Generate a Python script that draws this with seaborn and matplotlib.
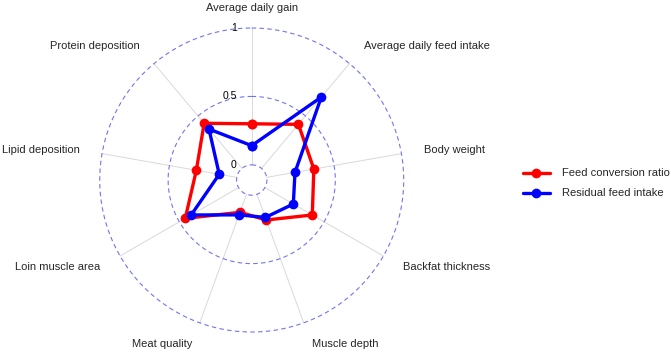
import numpy as np
import pandas as pd
import matplotlib
matplotlib.use("Agg")
import matplotlib.pyplot as plt
import seaborn as sns

# ejes del radar (sentido horario desde arriba)
traits = [
    "Average daily gain", "Average daily feed intake", "Body weight",
    "Backfat thickness", "Muscle depth", "Meat quality",
    "Loin muscle area", "Lipid deposition", "Protein deposition",
]
fcr = [0.30, 0.42, 0.35, 0.40, 0.20, 0.14, 0.45, 0.30, 0.43]
rfi = [0.14, 0.68, 0.21, 0.24, 0.18, 0.16, 0.40, 0.13, 0.375]
series = ["Feed conversion ratio", "Residual feed intake"]
colors = {"Feed conversion ratio": "#FF0000", "Residual feed intake": "#0000FF"}
grid_vals = [0, 0.5, 1]
grid_lbls = ["0", "0.5", "1"]

CENTRE = -1 / 9  # desplazamiento del centro, estilo ggradar

n = len(traits)
theta = np.linspace(0, 2 * np.pi, n, endpoint=False)

rows = []
for name, vals in zip(series, [fcr, rfi]):
    for i in list(range(n)) + [0]:  # cerrar el polígono
        rows.append({"serie": name, "theta": theta[i], "value": vals[i]})
long = pd.DataFrame(rows)

sns.set_theme(style="white")
plt.rcParams["font.family"] = ["Liberation Sans", "DejaVu Sans"]

fig = plt.figure(figsize=(6.71, 3.52), dpi=100)
ax = fig.add_axes([0.1486, 0.0568, 0.4531, 0.8636], projection="polar")
ax.set_theta_zero_location("N")
ax.set_theta_direction(-1)
ax.set_ylim(CENTRE, 1.0)
ax.grid(False)
ax.set_xticks([])
ax.set_yticks([])
ax.spines["polar"].set_visible(False)
ax.patch.set_alpha(0)

# radios grises
for t in theta:
    ax.plot([t, t], [0, 1], color="#D9D9D9", lw=0.7, zorder=1, clip_on=False)

# círculos de la rejilla
tt = np.linspace(0, 2 * np.pi, 400)
for v in grid_vals:
    ax.plot(tt, np.full_like(tt, v), color="#7373F2", lw=0.8,
            ls=(0, (4, 3)), zorder=1, clip_on=False)

for v, lbl in zip(grid_vals, grid_lbls):
    ax.annotate(lbl, xy=(0, v), xytext=(-15, 0), textcoords="offset pixels",
                ha="right", va="center", fontsize=7.5, color="black")

sns.lineplot(data=long, x="theta", y="value", hue="serie", hue_order=series,
             palette=colors, sort=False, estimator=None, units="serie",
             marker="o", markersize=7, markeredgewidth=0, lw=2.4,
             legend=False, ax=ax, zorder=3, clip_on=False)

# etiquetas de los ejes
r_lab = 1.15 * (1 - CENTRE) + CENTRE
for t, name in zip(theta, traits):
    s = np.sin(t)
    if abs(s) < 1e-6:
        ax.text(t, r_lab - 0.02, name, ha="center", va="center", fontsize=8)
    else:
        ax.text(t, r_lab, name, ha="left" if s > 0 else "right",
                va="center", fontsize=8)

ax.set_xlabel("")
ax.set_ylabel("")

handles = ax.get_lines()[-2:]
fig.legend(handles, series, loc="center left", bbox_to_anchor=(0.7794, 0.4787),
           frameon=False, fontsize=8, handlelength=2.4, handletextpad=1.1,
           labelspacing=0.9, borderpad=0, borderaxespad=0)

fig.savefig("out.png", dpi=100)
